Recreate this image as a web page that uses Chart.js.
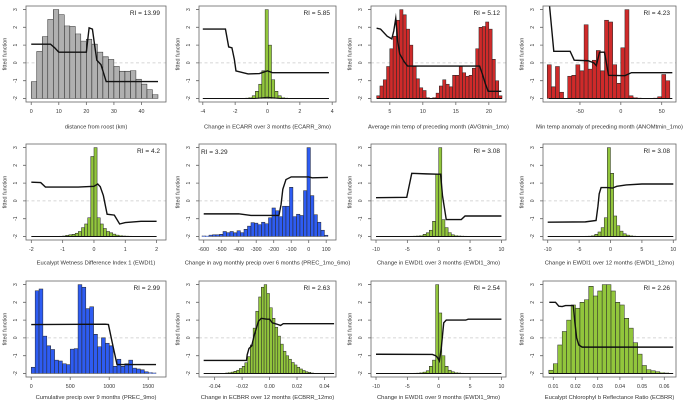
<!DOCTYPE html>
<html><head><meta charset="utf-8">
<script src="https://cdn.jsdelivr.net/npm/chart.js@4.4.1/dist/chart.umd.min.js"></script>
<style>
html,body{margin:0;padding:0;background:#fff;width:685px;height:404px;overflow:hidden;position:relative}
canvas{position:absolute}
</style></head><body>
<script>
// ---------- shared axis labels ----------
const yTicks = [-2, -1, 0, 1, 2, 3];
const yTickLabels = ['-2', '-1', '0', '1', '2', '3'];
const panelTitles = [
  'distance from roost (km)',
  'Change in ECARR over 3 months (ECARR_3mo)',
  'Average min temp of preceding month (AVGtmin_1mo)',
  'Min temp anomaly of preceding month (ANOMtmin_1mo)',
  'Eucalypt Wetness Difference Index 1 (EWDI1)',
  'Change in avg monthly precip over 6 months (PREC_1mo_6mo)',
  'Change in EWDI1 over 3 months (EWDI1_3mo)',
  'Change in EWDI1 over 12 months (EWDI1_12mo)',
  'Cumulative precip over 9 months (PREC_9mo)',
  'Change in ECBRR over 12 months (ECBRR_12mo)',
  'Change in EWDI1 over 9 months (EWDI1_9mo)',
  'Eucalypt Chlorophyl b Reflectance Ratio (ECBRR)'
];
const riLabels = ['RI = 13.99','RI = 5.85','RI = 5.12','RI = 4.23','RI = 4.2','RI = 3.29','RI = 3.08','RI = 3.08','RI = 2.99','RI = 2.63','RI = 2.54','RI = 2.26'];

// ---------- 1: distance from roost ----------
const roostBinX = [1,3,5,7,9,11,13,15,17,19,21,23,25,27,29,31,33,35,37,39,41,43,45];
const roostBarTop = [-1.06,0.64,1.47,2.44,3.0,2.71,2.08,2.05,1.63,1.23,1.33,1.06,0.61,0.34,0.19,-0.2,-0.47,-0.47,-0.43,-0.92,-1.19,-1.51,-1.78];
const roostFitX = [0,7,8.5,10,20,20.5,21,22.2,23,23.8,25.3,27.2,46];
const roostFitY = [1.05,1.05,0.85,0.6,0.6,1.3,1.97,1.9,1.0,0.15,-0.1,-1.05,-1.05];
const roostTicks = [0,10,20,30,40];
const roostTickLabels = ['0','10','20','30','40'];

// ---------- 2: ECARR_3mo ----------
const ecarr3BinX = [-1.25,-1.05,-0.85,-0.65,-0.45,-0.25,-0.05,0.15,0.35,0.55,0.75,0.95,1.15];
const ecarr3BarTop = [-1.98,-1.95,-1.85,-1.6,-1.2,-0.45,3.0,1.0,-0.95,-1.6,-1.85,-1.95,-1.98];
const ecarr3FitX = [-4,-2.6,-2.4,-2.2,-2.05,-1.95,-1.2,-0.5,0,0.3,3.8];
const ecarr3FitY = [1.9,1.9,0.9,0.85,0.2,-0.45,-0.62,-0.6,-0.45,-0.55,-0.55];
const ecarr3BaseX = [-4,-0.8,-0.3,0,0.3,0.8,3.8];
const ecarr3BaseY = [-2,-2,-1.96,-1.93,-1.96,-2,-2];
const ecarr3Ticks = [-4,-2,0,2,4];
const ecarr3TickLabels = ['-4','-2','0','2','4'];

// ---------- 3: AVGtmin_1mo ----------
const avgBinX = [3.25,3.75,4.25,4.75,5.25,5.75,6.25,6.75,7.25,7.75,8.25,8.75,9.25,9.75,10.25,10.75,11.25,11.75,12.25,12.75,13.25,13.75,14.25,14.75,15.25,15.75,16.25,16.75,17.25,17.75,18.25,18.75,19.25,19.75,20.25,20.75,21.25,21.75];
const avgBarTop = [-1.85,-1.3,-0.95,-0.2,0.8,1.5,2.4,3.0,2.7,1.9,1.0,-0.2,-0.9,-1.4,-1.55,-1.95,-1.99,-1.95,-1.7,-1.3,-0.95,-1.2,-1.35,-0.7,-0.7,-0.2,-0.55,-0.75,-0.7,-0.3,0.8,2.0,2.05,2.3,1.9,0.2,-1.0,-1.85];
const avgFitX = [3.0,3.6,4.6,5.3,5.6,5.9,6.2,6.5,7.2,7.7,18.6,19.0,19.5,19.9,21.9];
const avgFitY = [1.95,1.9,1.5,1.35,1.8,2.5,1.2,0.5,0.05,-0.18,-0.18,-0.6,-1.2,-1.6,-1.6];
const avgBaseX = [3.0,22.0];
const avgBaseY = [-2,-2];
const avgTicks = [5,10,15,20];
const avgTickLabels = ['5','10','15','20'];

// ---------- 4: ANOMtmin_1mo ----------
const anomBinX = [-87.5,-82.5,-77.5,-72.5,-67.5,-62.5,-57.5,-52.5,-47.5,-42.5,-37.5,-32.5,-27.5,-22.5,-17.5,-12.5,-7.5,-2.5,2.5,7.5,12.5,17.5,22.5,27.5,32.5,37.5,42.5,47.5,52.5,57.5];
const anomBarTop = [-0.1,-1.35,-0.2,-1.65,-2,-0.75,-0.7,-0.1,-0.45,2.15,-0.35,0.15,0.7,-0.45,2.4,2.3,-0.1,-1.15,0.85,3.0,-1.85,-1.95,-1.98,-2,-2,-2,-1.98,-1.9,-0.65,-1.0];
const anomFitX = [-88,-82,-62,-57,-40,-33,-30,-26,-20,-15,5,13,63];
const anomFitY = [3.6,0.65,0.65,0.15,0.12,0.0,-0.15,0.6,0.6,-0.7,-0.72,-0.55,-0.55];
const anomBaseX = [-88,63];
const anomBaseY = [-2,-2];
const anomTicks = [-50,0,50];
const anomTickLabels = ['-50','0','50'];

// ---------- 5: EWDI1 ----------
const ewdi1BinX = [-1.05,-0.95,-0.85,-0.75,-0.65,-0.55,-0.45,-0.35,-0.25,-0.15,-0.05,0.05,0.15,0.25,0.35,0.45,0.55,0.65,0.75,0.85,0.95,1.05,1.15];
const ewdi1BarTop = [-1.99,-1.97,-1.94,-1.9,-1.88,-1.82,-1.72,-1.5,-1.3,-0.95,2.5,3.0,-0.95,-1.3,-1.55,-1.72,-1.8,-1.87,-1.92,-1.95,-1.97,-1.98,-1.99];
const ewdi1FitX = [-2,-1.7,-1.55,-0.5,0.0,0.12,0.2,0.3,0.42,0.65,0.82,1.0,1.5,2.0];
const ewdi1FitY = [1.05,1.03,0.78,0.78,0.82,0.95,0.8,0.3,-0.75,-0.8,-1.3,-1.22,-1.15,-1.15];
const ewdi1BaseX = [-2,2];
const ewdi1BaseY = [-2,-2];
const ewdi1Ticks = [-2,-1,0,1,2];
const ewdi1TickLabels = ['-2','-1','0','1','2'];

// ---------- 6: PREC_1mo_6mo ----------
const prec6BinX = [-600,-580,-560,-540,-520,-500,-480,-460,-440,-420,-400,-380,-360,-340,-320,-300,-280,-260,-240,-220,-200,-180,-160,-140,-120,-100,-80,-60,-40,-20,0,20,40,60,80,100];
const prec6BarTop = [-1.97,-1.98,-1.92,-1.9,-1.9,-1.88,-1.72,-1.78,-1.72,-1.8,-1.68,-1.78,-1.6,-1.42,-1.22,-1.25,-1.33,-1.2,-1.28,-0.95,-0.4,-0.55,-0.88,-0.3,-0.3,0.76,-0.88,-0.75,-0.82,0.58,3.0,0.3,-0.78,-1.2,-1.65,-1.93];
const prec6FitX = [-600,-400,-330,-170,-158,-148,-130,-100,0,20,110];
const prec6FitY = [-0.73,-0.73,-0.82,-0.82,-0.2,0.65,1.2,1.35,1.35,1.3,1.32];
const prec6Ticks = [-600,-500,-400,-300,-200,-100,0,100];
const prec6TickLabels = ['-600','-500','-400','-300','-200','-100','0','100'];

// ---------- 7: EWDI1_3mo ----------
const ewdi3BinX = [-4.25,-3.75,-3.25,-2.75,-2.25,-1.75,-1.25,-0.75,-0.25,0.25,0.75,1.25,1.75,2.25,2.75,3.25,3.75,4.25];
const ewdi3BarTop = [-1.99,-1.98,-1.97,-1.95,-1.88,-1.8,-1.65,-1.15,1.5,3.0,-1.05,-1.5,-1.78,-1.9,-1.95,-1.97,-1.98,-1.99];
const ewdi3FitX = [-10,-5.1,-4.3,-2,-0.2,0.3,0.6,1.2,3.6,4.2,10];
const ewdi3FitY = [0.18,0.2,1.55,1.52,1.5,1.5,0.3,-1.05,-1.05,-0.85,-0.85];
const ewdi3BaseX = [-10,10];
const ewdi3BaseY = [-2,-2];
const ewdi3Ticks = [-10,-5,0,5,10];
const ewdi3TickLabels = ['-10','-5','0','5','10'];

// ---------- 8: EWDI1_12mo ----------
const ewdi12BinX = [-3.75,-3.25,-2.75,-2.25,-1.75,-1.25,-0.75,-0.25,0.25,0.75,1.25,1.75,2.25,2.75,3.25,3.75];
const ewdi12BarTop = [-1.99,-1.98,-1.95,-1.88,-1.75,-1.5,-0.95,3.0,1.55,-0.85,-1.4,-1.7,-1.85,-1.92,-1.96,-1.98];
const ewdi12FitX = [-10,-4,-2.3,-2.0,-1.8,-1.5,-0.5,0.3,1,2.5,5,10];
const ewdi12FitY = [-1.2,-1.18,-1.1,-0.3,0.4,0.75,0.75,0.72,0.82,0.9,0.95,0.95];
const ewdi12BaseX = [-10,10];
const ewdi12BaseY = [-2,-2];
const ewdi12Ticks = [-10,-5,0,5,10];
const ewdi12TickLabels = ['-10','-5','0','5','10'];

// ---------- 9: PREC_9mo ----------
const prec9BinX = [25,75,125,175,225,275,325,375,425,475,525,575,625,675,725,775,825,875,925,975,1025,1075,1125,1175,1225,1275,1325,1375,1425,1475,1525,1575];
const prec9BarTop = [-1.65,2.65,2.75,0.1,-0.45,-0.65,-1.25,-1.3,-1.45,-1.5,-0.63,-0.6,3.0,2.85,1.65,1.75,0.2,-0.5,0.0,-0.3,-0.45,-1.6,-1.2,-1.6,-1.45,-1.25,-1.7,-1.75,-1.8,-1.9,-1.95,-1.97];
const prec9FitX = [0,950,990,1050,1100,1600];
const prec9FitY = [0.75,0.77,0.75,-0.5,-1.5,-1.5];
const prec9Ticks = [0,500,1000,1500];
const prec9TickLabels = ['0','500','1000','1500'];

// ---------- 10: ECBRR_12mo ----------
const ecbrr12BinX = [-0.031,-0.029,-0.027,-0.025,-0.023,-0.021,-0.019,-0.017,-0.015,-0.013,-0.011,-0.009,-0.007,-0.005,-0.003,-0.001,0.001,0.003,0.005,0.007,0.009,0.011,0.013,0.015,0.017,0.019,0.021,0.023,0.025,0.027,0.029,0.031];
const ecbrr12BarTop = [-1.97,-1.95,-1.92,-1.88,-1.82,-1.72,-1.6,-1.4,-1.05,-0.4,0.55,1.5,2.3,2.85,3.0,2.5,1.7,1.1,0.6,0.1,-0.35,-0.75,-1.0,-1.2,-1.38,-1.52,-1.65,-1.75,-1.83,-1.9,-1.94,-1.97];
const ecbrr12FitX = [-0.048,-0.0168,-0.0163,-0.015,-0.013,-0.011,-0.008,-0.006,-0.002,0.0,0.002,0.005,0.008,0.01,0.047];
const ecbrr12FitY = [-1.27,-1.27,-0.95,-0.6,-0.45,0.2,0.95,1.1,1.05,1.05,0.85,0.78,0.7,0.8,0.8];
const ecbrr12BaseX = [-0.048,0.047];
const ecbrr12BaseY = [-2,-2];
const ecbrr12Ticks = [-0.04,-0.02,0,0.02,0.04];
const ecbrr12TickLabels = ['-0.04','-0.02','0.00','0.02','0.04'];

// ---------- 11: EWDI1_9mo ----------
const ewdi9BinX = [-3.75,-3.25,-2.75,-2.25,-1.75,-1.25,-0.75,-0.25,0.25,0.75,1.25,1.75,2.25,2.75,3.25,3.75];
const ewdi9BarTop = [-1.99,-1.98,-1.96,-1.92,-1.85,-1.6,-1.25,3.0,1.4,-1.0,-1.6,-1.82,-1.9,-1.95,-1.97,-1.99];
const ewdi9FitX = [-10,-1,-0.5,-0.2,0.1,0.4,0.8,1.2,4.3,4.7,10];
const ewdi9FitY = [-0.92,-0.93,-1.0,-1.1,-1.3,-0.6,0.85,1.0,1.0,1.05,1.05];
const ewdi9BaseX = [-10,10];
const ewdi9BaseY = [-2,-2];
const ewdi9Ticks = [-10,-5,0,5,10];
const ewdi9TickLabels = ['-10','-5','0','5','10'];

// ---------- 12: ECBRR ----------
const ecbrrBinX = [0.009,0.011,0.013,0.015,0.017,0.019,0.021,0.023,0.025,0.027,0.029,0.031,0.033,0.035,0.037,0.039,0.041,0.043,0.045,0.047,0.049,0.051,0.053,0.055,0.057,0.059,0.061];
const ecbrrBarTop = [-1.82,-1.45,-0.4,0.36,1.0,1.85,1.67,2.0,2.15,2.9,2.36,2.64,3.0,3.0,2.64,2.0,1.85,1.1,0.55,-0.27,-0.91,-1.55,-1.78,-1.85,-1.9,-1.95,-1.97];
const ecbrrFitX = [0.0082,0.011,0.0125,0.014,0.0155,0.019,0.0197,0.0205,0.0215,0.023,0.064];
const ecbrrFitY = [2.0,2.0,1.78,1.76,1.82,1.82,0.9,0.0,-0.4,-0.52,-0.52];
const ecbrrBaseX = [0.008,0.064];
const ecbrrBaseY = [-2,-2];
const ecbrrTicks = [0.01,0.02,0.03,0.04,0.05,0.06];
const ecbrrTickLabels = ['0.01','0.02','0.03','0.04','0.05','0.06'];

// ---------- styling / layout ----------
const GREY = '#b0b0b0', GREEN = '#92c63c', RED = '#cf2a2a', BLUE = '#2e5cf2';
const FONT = '"Liberation Sans", Arial, Helvetica, sans-serif';
Chart.defaults.font.family = FONT;
Chart.defaults.color = '#333';

const BOX_LEFT = [25.5, 198.5, 370.5, 543];
const BOX_RIGHT = [165.5, 335.5, 505.5, 676];
const BOX_TOP = [2, 140, 277];
const TITLE_GAP = [25, 23, 20.5];
const BOX_H = 100;
const PAD_L = 26, PAD_T = 4, PAD_R = 14, AX_H = 32;

const PANELS = [
  {binX: roostBinX, top: roostBarTop, fitX: roostFitX, fitY: roostFitY, ticks: roostTicks, labels: roostTickLabels, xMin: -1.9, xMax: 48.9, color: GREY},
  {binX: ecarr3BinX, top: ecarr3BarTop, fitX: ecarr3FitX, fitY: ecarr3FitY, baseX: ecarr3BaseX, baseY: ecarr3BaseY, ticks: ecarr3Ticks, labels: ecarr3TickLabels, xMin: -4.235, xMax: 4.235, color: GREEN},
  {binX: avgBinX, top: avgBarTop, fitX: avgFitX, fitY: avgFitY, baseX: avgBaseX, baseY: avgBaseY, ticks: avgTicks, labels: avgTickLabels, xMin: 2.15, xMax: 22.6, color: RED},
  {binX: anomBinX, top: anomBarTop, fitX: anomFitX, fitY: anomFitY, baseX: anomBaseX, baseY: anomBaseY, ticks: anomTicks, labels: anomTickLabels, xMin: -95.2, xMax: 67.5, color: RED},
  {binX: ewdi1BinX, top: ewdi1BarTop, fitX: ewdi1FitX, fitY: ewdi1FitY, baseX: ewdi1BaseX, baseY: ewdi1BaseY, ticks: ewdi1Ticks, labels: ewdi1TickLabels, xMin: -2.17, xMax: 2.3, color: GREEN},
  {binX: prec6BinX, top: prec6BarTop, fitX: prec6FitX, fitY: prec6FitY, ticks: prec6Ticks, labels: prec6TickLabels, xMin: -627, xMax: 156, color: BLUE, riLeft: true},
  {binX: ewdi3BinX, top: ewdi3BarTop, fitX: ewdi3FitX, fitY: ewdi3FitY, baseX: ewdi3BaseX, baseY: ewdi3BaseY, ticks: ewdi3Ticks, labels: ewdi3TickLabels, xMin: -10.8, xMax: 10.73, color: GREEN},
  {binX: ewdi12BinX, top: ewdi12BarTop, fitX: ewdi12FitX, fitY: ewdi12FitY, baseX: ewdi12BaseX, baseY: ewdi12BaseY, ticks: ewdi12Ticks, labels: ewdi12TickLabels, xMin: -10.75, xMax: 10.43, color: GREEN},
  {binX: prec9BinX, top: prec9BarTop, fitX: prec9FitX, fitY: prec9FitY, ticks: prec9Ticks, labels: prec9TickLabels, xMin: -67, xMax: 1728, color: BLUE},
  {binX: ecbrr12BinX, top: ecbrr12BarTop, fitX: ecbrr12FitX, fitY: ecbrr12FitY, baseX: ecbrr12BaseX, baseY: ecbrr12BaseY, ticks: ecbrr12Ticks, labels: ecbrr12TickLabels, xMin: -0.0514, xMax: 0.0484, color: GREEN},
  {binX: ewdi9BinX, top: ewdi9BarTop, fitX: ewdi9FitX, fitY: ewdi9FitY, baseX: ewdi9BaseX, baseY: ewdi9BaseY, ticks: ewdi9Ticks, labels: ewdi9TickLabels, xMin: -10.8, xMax: 10.73, color: GREEN},
  {binX: ecbrrBinX, top: ecbrrBarTop, fitX: ecbrrFitX, fitY: ecbrrFitY, baseX: ecbrrBaseX, baseY: ecbrrBaseY, ticks: ecbrrTicks, labels: ecbrrTickLabels, xMin: 0.00536, xMax: 0.06527, color: GREEN}
];

const framePlugin = {
  id: 'frame',
  beforeDatasetsDraw(chart) {
    const {ctx, chartArea: a, scales: {y}} = chart;
    const y0 = y.getPixelForValue(0);
    ctx.save();
    ctx.strokeStyle = '#c9c9c9'; ctx.lineWidth = 0.8; ctx.setLineDash([3, 2.5]);
    ctx.beginPath(); ctx.moveTo(a.left, y0); ctx.lineTo(a.right, y0); ctx.stroke();
    ctx.restore();
  },
  afterDraw(chart, args, opts) {
    const {ctx, chartArea: a, scales: {x, y}} = chart;
    ctx.save();
    ctx.strokeStyle = '#666'; ctx.lineWidth = 0.8;
    ctx.strokeRect(a.left, a.top, a.right - a.left, a.bottom - a.top);
    ctx.beginPath();
    x.ticks.forEach(t => { const px = x.getPixelForValue(t.value); ctx.moveTo(px, a.bottom); ctx.lineTo(px, a.bottom + 3); });
    y.ticks.forEach(t => { const py = y.getPixelForValue(t.value); ctx.moveTo(a.left, py); ctx.lineTo(a.left - 3, py); });
    ctx.stroke();
    ctx.fillStyle = '#222';
    ctx.font = '6.5px ' + FONT; ctx.textBaseline = 'middle';
    if (opts.riLeft) { ctx.textAlign = 'left'; ctx.fillText(opts.ri, a.left + 2, a.top + 8); }
    else { ctx.textAlign = 'right'; ctx.fillText(opts.ri, a.right - 6, a.top + 7); }
    ctx.fillStyle = '#333';
    ctx.font = '5.8px ' + FONT; ctx.textAlign = 'center';
    ctx.fillText(opts.title, (a.left + a.right) / 2, a.bottom + opts.titleGap);
    ctx.restore();
  }
};

PANELS.forEach((p, idx) => {
  const col = idx % 4, row = Math.floor(idx / 4);
  const bl = BOX_LEFT[col], bw = BOX_RIGHT[col] - BOX_LEFT[col], bt = BOX_TOP[row];
  const W = PAD_L + bw + PAD_R, H = PAD_T + BOX_H + AX_H;
  const cv = document.createElement('canvas');
  cv.width = W; cv.height = H;
  cv.style.left = (bl - PAD_L) + 'px'; cv.style.top = (bt - PAD_T) + 'px';
  cv.style.width = W + 'px'; cv.style.height = H + 'px';
  document.body.appendChild(cv);

  const datasets = [];
  datasets.push({type: 'line', data: p.fitX.map((v, i) => ({x: v, y: p.fitY[i]})),
    borderColor: '#111', borderWidth: 1.4, pointRadius: 0, tension: 0, order: 1});
  if (p.baseX) datasets.push({type: 'line', data: p.baseX.map((v, i) => ({x: v, y: p.baseY[i]})),
    borderColor: '#111', borderWidth: 1, pointRadius: 0, tension: 0, order: 1});
  datasets.push({type: 'bar', data: p.binX.map((v, i) => ({x: v, y: [-2, p.top[i]]})),
    backgroundColor: p.color, borderColor: '#2a2a2a', borderWidth: 0.6, borderSkipped: false,
    categoryPercentage: 1, barPercentage: 1, order: 2});

  new Chart(cv, {
    type: 'bar',
    data: {datasets},
    plugins: [framePlugin],
    options: {
      responsive: false, animation: false, devicePixelRatio: 2,
      layout: {padding: {left: 0, top: PAD_T, right: PAD_R, bottom: 0}},
      plugins: {legend: {display: false}, tooltip: {enabled: false},
        frame: {ri: riLabels[idx], title: panelTitles[idx], riLeft: !!p.riLeft, titleGap: TITLE_GAP[row]}},
      scales: {
        x: {type: 'linear', min: p.xMin, max: p.xMax, offset: false,
          grid: {display: false, drawTicks: true, tickLength: 6.5}, border: {display: false},
          ticks: {padding: 0, font: {size: 5.3}, color: '#333', autoSkip: false, minRotation: 0, maxRotation: 0,
            callback: (v, i) => p.labels[i]},
          afterBuildTicks: s => { s.ticks = p.ticks.map(v => ({value: v})); },
          afterFit: s => { s.height = AX_H; }},
        y: {type: 'linear', min: -2.2, max: 3.2,
          grid: {display: false, drawTicks: true, tickLength: 3}, border: {display: false},
          ticks: {padding: 5, font: {size: 5}, color: '#333', autoSkip: false, minRotation: 90, maxRotation: 90,
            crossAlign: 'center', callback: (v, i) => yTickLabels[i]},
          afterBuildTicks: s => { s.ticks = yTicks.map(v => ({value: v})); },
          afterFit: s => { s.width = PAD_L; },
          title: {display: true, text: 'fitted function', font: {size: 5.5}, color: '#333', padding: {top: 1.5, bottom: 0}}}
      }
    }
  });
});
</script>
</body></html>
